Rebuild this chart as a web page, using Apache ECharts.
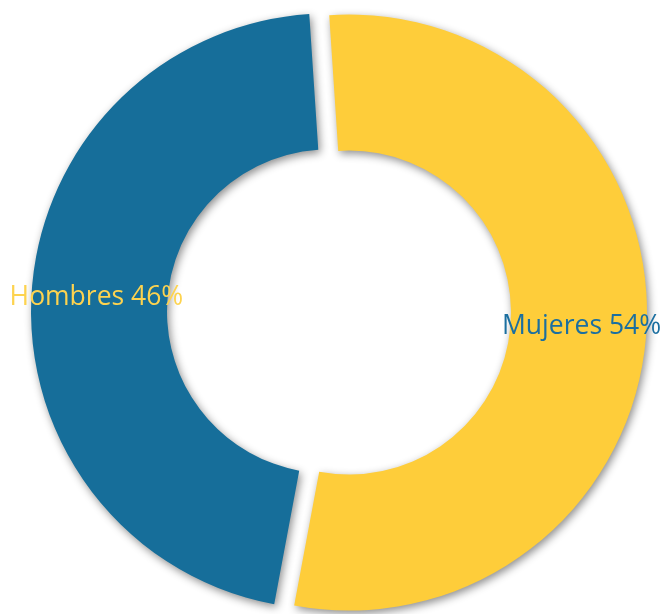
<!DOCTYPE html>
<html>
<head>
<meta charset="utf-8">
<script src="https://cdn.jsdelivr.net/npm/echarts@6/dist/echarts.min.js"></script>
<style>
  html, body { margin: 0; padding: 0; background: #fff; }
  #chart { width: 661px; height: 614px; }
</style>
</head>
<body>
<div id="chart"></div>
<script>
const categories = ['Mujeres', 'Hombres']
const values = [54, 46]
const sliceColors = ['#FECD3A', '#166E9A']
const labelColors = ['#1B6FA0', '#FDD34F']

const chart = echarts.init(document.getElementById('chart'))

chart.setOption({
  animation: false,
  series: [
    {
      type: 'pie',
      center: [339, 312],
      radius: [162, 298],
      startAngle: 93.8,
      clockwise: true,
      selectedMode: 'multiple',
      selectedOffset: 10,
      avoidLabelOverlap: false,
      emphasis: { disabled: true },
      labelLine: { show: false },
      data: categories.map((name, i) => ({
        name: name,
        value: values[i],
        selected: true,
        itemStyle: {
          color: sliceColors[i],
          shadowColor: 'rgba(0,0,0,0.45)',
          shadowBlur: 8,
          shadowOffsetX: 2,
          shadowOffsetY: 3
        },
        label: {
          show: true,
          position: 'inside',
          formatter: '{b} {c}%',
          color: labelColors[i],
          fontFamily: 'Open Sans',
          fontSize: 26.5,
          offset: [0, i === 0 ? 4 : 0]
        }
      }))
    }
  ]
})
</script>
</body>
</html>
